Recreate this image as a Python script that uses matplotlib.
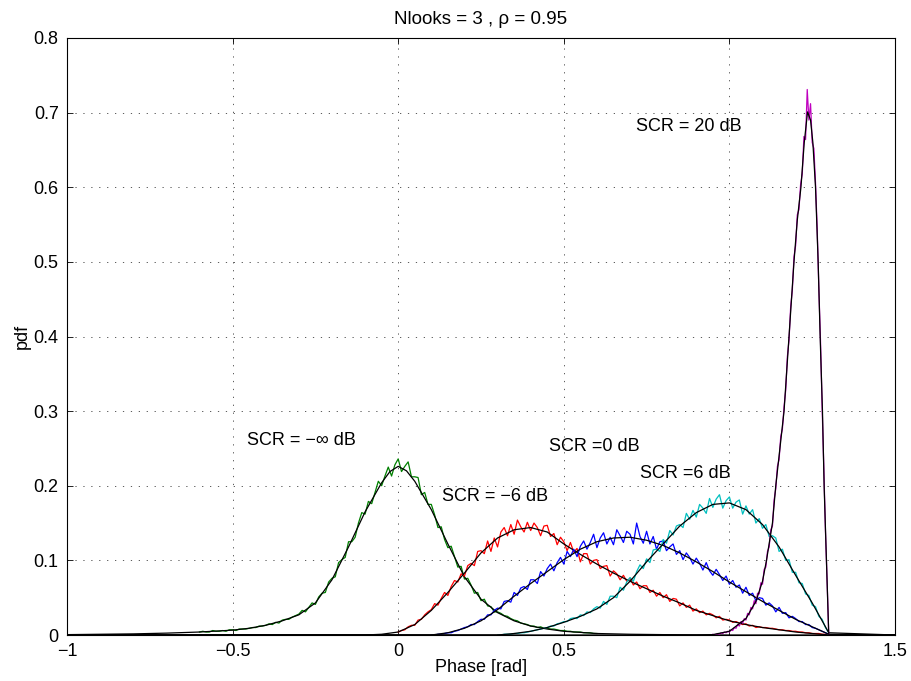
import matplotlib
matplotlib.use("Agg")
import matplotlib.pyplot as plt
import numpy as np

plt.rcParams['font.family'] = ['Liberation Sans', 'DejaVu Sans']
plt.rcParams['axes.unicode_minus'] = True

# smooth (theoretical) pdf curves
green_x = [-1.0, -0.9, -0.8, -0.7, -0.6, -0.5, -0.45, -0.4, -0.35, -0.3, -0.25, -0.2, -0.15, -0.1,
           -0.05, -0.025, 0.0, 0.025, 0.05, 0.1, 0.15, 0.2, 0.25, 0.3, 0.35, 0.4, 0.45, 0.5, 0.6,
           0.7, 0.8, 1.0, 1.5]
green_y = [0.0005, 0.001, 0.0015, 0.0025, 0.004, 0.0065, 0.009, 0.013, 0.019, 0.027, 0.043, 0.074,
           0.118, 0.165, 0.204, 0.219, 0.226, 0.220, 0.206, 0.168, 0.122, 0.078, 0.048, 0.030,
           0.019, 0.012, 0.008, 0.005, 0.002, 0.001, 0.0005, 0.0, 0.0]

red_x = [-1.0, -0.1, -0.05, 0.0, 0.05, 0.1, 0.15, 0.2, 0.25, 0.3, 0.35, 0.4, 0.45, 0.5, 0.55, 0.6,
         0.65, 0.7, 0.75, 0.8, 0.85, 0.9, 0.95, 1.0, 1.05, 1.1, 1.15, 1.2, 1.25, 1.3, 1.5]
red_y = [0.0, 0.0, 0.001, 0.004, 0.014, 0.033, 0.057, 0.083, 0.110, 0.130, 0.141, 0.144, 0.138,
         0.122, 0.108, 0.095, 0.083, 0.072, 0.062, 0.052, 0.043, 0.033, 0.026, 0.019, 0.014,
         0.010, 0.007, 0.004, 0.002, 0.0, 0.0]

blue_x = [-1.0, 0.1, 0.15, 0.2, 0.25, 0.3, 0.35, 0.4, 0.45, 0.5, 0.55, 0.6, 0.65, 0.7, 0.75, 0.8,
          0.85, 0.9, 0.95, 1.0, 1.05, 1.1, 1.15, 1.2, 1.25, 1.3, 1.5]
blue_y = [0.0, 0.0, 0.003, 0.009, 0.019, 0.034, 0.052, 0.069, 0.085, 0.101, 0.115, 0.125, 0.130,
          0.131, 0.127, 0.120, 0.110, 0.098, 0.085, 0.071, 0.058, 0.045, 0.033, 0.021, 0.011,
          0.001, 0.0]

cyan_x = [-1.0, 0.3, 0.35, 0.4, 0.45, 0.5, 0.55, 0.6, 0.65, 0.7, 0.75, 0.8, 0.85, 0.9, 0.95, 1.0,
          1.05, 1.1, 1.15, 1.2, 1.25, 1.3, 1.5]
cyan_y = [0.0, 0.0, 0.002, 0.005, 0.010, 0.017, 0.025, 0.035, 0.050, 0.072, 0.098, 0.122, 0.146,
          0.164, 0.175, 0.177, 0.168, 0.148, 0.118, 0.080, 0.043, 0.003, 0.0]

mag_x = [-1.0, 0.9, 0.95, 1.0, 1.05, 1.08, 1.1, 1.112, 1.13, 1.14, 1.155, 1.165, 1.18, 1.195,
         1.205, 1.216, 1.226, 1.236, 1.245, 1.252, 1.26, 1.268, 1.274, 1.281, 1.286, 1.293,
         1.300, 1.5]
mag_y = [0.0, 0.0, 0.0005, 0.005, 0.022, 0.045, 0.072, 0.1, 0.15, 0.2, 0.26, 0.3, 0.4, 0.5,
         0.556, 0.6, 0.66, 0.701, 0.69, 0.66, 0.6, 0.5, 0.4, 0.3, 0.2, 0.1, 0.0, 0.0]

# simulated histograms (noisy), one value per bin
green_start, green_step = -0.60, 0.01
green_hist = [
    0.004, 0.005, 0.004, 0.004, 0.006, 0.005, 0.005, 0.006, 0.005, 0.007,
    0.007, 0.006, 0.008, 0.008, 0.008, 0.009, 0.010, 0.010, 0.012, 0.012,
    0.013, 0.015, 0.014, 0.017, 0.016, 0.020, 0.021, 0.021, 0.024, 0.026,
    0.028, 0.033, 0.031, 0.037, 0.043, 0.041, 0.051, 0.056, 0.057, 0.071,
    0.076, 0.078, 0.097, 0.101, 0.104, 0.125, 0.125, 0.131, 0.150, 0.164,
    0.162, 0.179, 0.176, 0.191, 0.206, 0.200, 0.213, 0.225, 0.213, 0.228,
    0.236, 0.219, 0.226, 0.232, 0.212, 0.212, 0.211, 0.188, 0.191, 0.175,
    0.175, 0.161, 0.144, 0.145, 0.128, 0.117, 0.119, 0.105, 0.091, 0.092,
    0.075, 0.076, 0.067, 0.056, 0.057, 0.046, 0.048, 0.039, 0.038, 0.031,
    0.031, 0.029, 0.026, 0.025, 0.022, 0.020, 0.019, 0.016, 0.015, 0.014,
    0.012, 0.012, 0.010, 0.011, 0.009, 0.009, 0.008, 0.008, 0.007, 0.006,
    0.006, 0.005, 0.005, 0.004, 0.004, 0.004, 0.003, 0.003, 0.003, 0.002, 0.002]

red_start, red_step = 0.0, 0.01
red_hist = [
    0.004, 0.006, 0.007, 0.011, 0.013, 0.013, 0.020, 0.021, 0.027, 0.031,
    0.034, 0.042, 0.040, 0.049, 0.057, 0.053, 0.065, 0.073, 0.071, 0.082,
    0.079, 0.093, 0.096, 0.093, 0.112, 0.113, 0.109, 0.126, 0.112, 0.130,
    0.118, 0.138, 0.144, 0.133, 0.148, 0.135, 0.154, 0.145, 0.138, 0.151,
    0.140, 0.150, 0.144, 0.133, 0.146, 0.147, 0.132, 0.136, 0.121, 0.131,
    0.125, 0.113, 0.124, 0.111, 0.116, 0.098, 0.109, 0.109, 0.095, 0.100,
    0.101, 0.089, 0.092, 0.093, 0.079, 0.086, 0.082, 0.074, 0.080, 0.072,
    0.076, 0.067, 0.071, 0.062, 0.066, 0.066, 0.057, 0.060, 0.052, 0.057,
    0.050, 0.054, 0.045, 0.049, 0.048, 0.039, 0.043, 0.037, 0.040, 0.032,
    0.035, 0.030, 0.032, 0.027, 0.029, 0.027, 0.023, 0.025, 0.020, 0.021,
    0.020, 0.017, 0.018, 0.016, 0.014, 0.015, 0.012, 0.013, 0.010, 0.011,
    0.010, 0.010, 0.009, 0.009, 0.008, 0.007, 0.007, 0.006, 0.006, 0.005,
    0.005, 0.004, 0.004, 0.003, 0.003, 0.002, 0.002, 0.002, 0.001, 0.001, 0.0]

blue_start, blue_step = 0.10, 0.01
blue_hist = [
    0.000, 0.000, 0.001, 0.001, 0.002, 0.003, 0.003, 0.005, 0.006, 0.008,
    0.010, 0.011, 0.014, 0.014, 0.018, 0.021, 0.021, 0.027, 0.027, 0.033,
    0.036, 0.035, 0.045, 0.046, 0.044, 0.057, 0.053, 0.063, 0.065, 0.061,
    0.074, 0.074, 0.069, 0.085, 0.079, 0.089, 0.095, 0.086, 0.097, 0.104,
    0.095, 0.112, 0.105, 0.115, 0.105, 0.119, 0.126, 0.115, 0.124, 0.135,
    0.117, 0.130, 0.137, 0.122, 0.131, 0.121, 0.141, 0.133, 0.124, 0.139,
    0.135, 0.122, 0.150, 0.132, 0.123, 0.139, 0.122, 0.132, 0.115, 0.125,
    0.126, 0.113, 0.118, 0.122, 0.108, 0.113, 0.101, 0.110, 0.104, 0.095,
    0.103, 0.096, 0.087, 0.097, 0.086, 0.080, 0.088, 0.081, 0.073, 0.079,
    0.068, 0.073, 0.064, 0.067, 0.056, 0.064, 0.053, 0.056, 0.046, 0.050,
    0.049, 0.040, 0.043, 0.039, 0.031, 0.037, 0.029, 0.030, 0.023, 0.025,
    0.022, 0.018, 0.018, 0.014, 0.014, 0.010, 0.009, 0.007, 0.005, 0.003, 0.001]

cyan_start, cyan_step = 0.30, 0.01
cyan_hist = [
    0.000, 0.000, 0.001, 0.001, 0.001, 0.002, 0.002, 0.003, 0.003, 0.004,
    0.005, 0.006, 0.007, 0.008, 0.009, 0.010, 0.012, 0.012, 0.015, 0.016,
    0.018, 0.018, 0.022, 0.023, 0.022, 0.027, 0.026, 0.031, 0.030, 0.035,
    0.038, 0.036, 0.045, 0.041, 0.052, 0.052, 0.050, 0.064, 0.060, 0.071,
    0.077, 0.072, 0.085, 0.094, 0.089, 0.102, 0.097, 0.114, 0.115, 0.112,
    0.128, 0.123, 0.140, 0.134, 0.146, 0.148, 0.144, 0.163, 0.155, 0.167,
    0.158, 0.175, 0.170, 0.163, 0.183, 0.171, 0.182, 0.188, 0.170, 0.180,
    0.185, 0.170, 0.178, 0.181, 0.162, 0.173, 0.162, 0.168, 0.150, 0.156,
    0.143, 0.148, 0.132, 0.133, 0.130, 0.112, 0.115, 0.100, 0.101, 0.084,
    0.084, 0.070, 0.069, 0.055, 0.053, 0.040, 0.038, 0.025, 0.021, 0.010, 0.003]

mag_start, mag_step = 0.95, 0.005
mag_hist = [
    0.001, 0.000, 0.001, 0.002, 0.001, 0.003, 0.002, 0.004, 0.003, 0.005,
    0.004, 0.007, 0.006, 0.010, 0.009, 0.014, 0.012, 0.018, 0.016, 0.022,
    0.020, 0.029, 0.027, 0.037, 0.035, 0.046, 0.042, 0.056, 0.055, 0.070,
    0.068, 0.088, 0.091, 0.112, 0.118, 0.141, 0.146, 0.181, 0.196, 0.226,
    0.235, 0.266, 0.276, 0.306, 0.328, 0.373, 0.395, 0.440, 0.462, 0.507,
    0.522, 0.563, 0.570, 0.604, 0.618, 0.668, 0.664, 0.731, 0.690, 0.712,
    0.660, 0.652, 0.606, 0.545, 0.465, 0.395, 0.305, 0.225, 0.140, 0.072, 0.0]

xticks = [-1, -0.5, 0, 0.5, 1, 1.5]
xticklabels = ['\u22121', '\u22120.5', '0', '0.5', '1', '1.5']
yticks = [0, 0.1, 0.2, 0.3, 0.4, 0.5, 0.6, 0.7, 0.8]
yticklabels = ['0', '0.1', '0.2', '0.3', '0.4', '0.5', '0.6', '0.7', '0.8']

labels = ['SCR = \u2212\u221e dB', 'SCR = \u22126 dB', 'SCR =0 dB', 'SCR =6 dB', 'SCR = 20 dB']
label_pos = [(-0.457, 0.260), (0.131, 0.185), (0.455, 0.252), (0.731, 0.217), (0.718, 0.681)]

fig = plt.figure(figsize=(9.12, 6.81), dpi=100)
ax = fig.add_axes([67 / 912, 46 / 681, 828 / 912, 597 / 681])

hists = [(green_start, green_step, green_hist, (0, 0.5, 0)),
         (red_start, red_step, red_hist, (1, 0, 0)),
         (blue_start, blue_step, blue_hist, (0, 0, 1)),
         (cyan_start, cyan_step, cyan_hist, (0, 0.75, 0.75)),
         (mag_start, mag_step, mag_hist, (0.75, 0, 0.75))]
curves = [(green_x, green_y), (red_x, red_y), (blue_x, blue_y), (cyan_x, cyan_y), (mag_x, mag_y)]

for (start, step, vals, col), (cx, cy) in zip(hists, curves):
    hx = start + step * np.arange(len(vals))
    ax.plot(hx, vals, color=col, lw=0.9)
    ax.plot(cx, cy, color='k', lw=0.9)

for txt, (tx, ty) in zip(labels, label_pos):
    ax.text(tx, ty, txt, fontsize=13, ha='left', va='center')

ax.set_xlim(-1, 1.5)
ax.set_ylim(0, 0.8)
ax.set_xticks(xticks)
ax.set_xticklabels(xticklabels)
ax.set_yticks(yticks)
ax.set_yticklabels(yticklabels)
ax.tick_params(direction='in', top=True, right=True, length=4, width=0.6, labelsize=13)
ax.tick_params(axis='x', pad=6)
ax.tick_params(axis='y', pad=6)
ax.grid(True, color=(0.25, 0.25, 0.25), lw=0.6, linestyle=(0, (1.5, 8)))
for s in ax.spines.values():
    s.set_linewidth(0.8)

ax.set_title('Nlooks = 3 , \u03c1 = 0.95', fontsize=13.5, pad=10)
ax.set_xlabel('Phase [rad]', fontsize=13, labelpad=-1)
ax.set_ylabel('pdf', fontsize=13, labelpad=2)

fig.savefig('out.png', dpi=100)
